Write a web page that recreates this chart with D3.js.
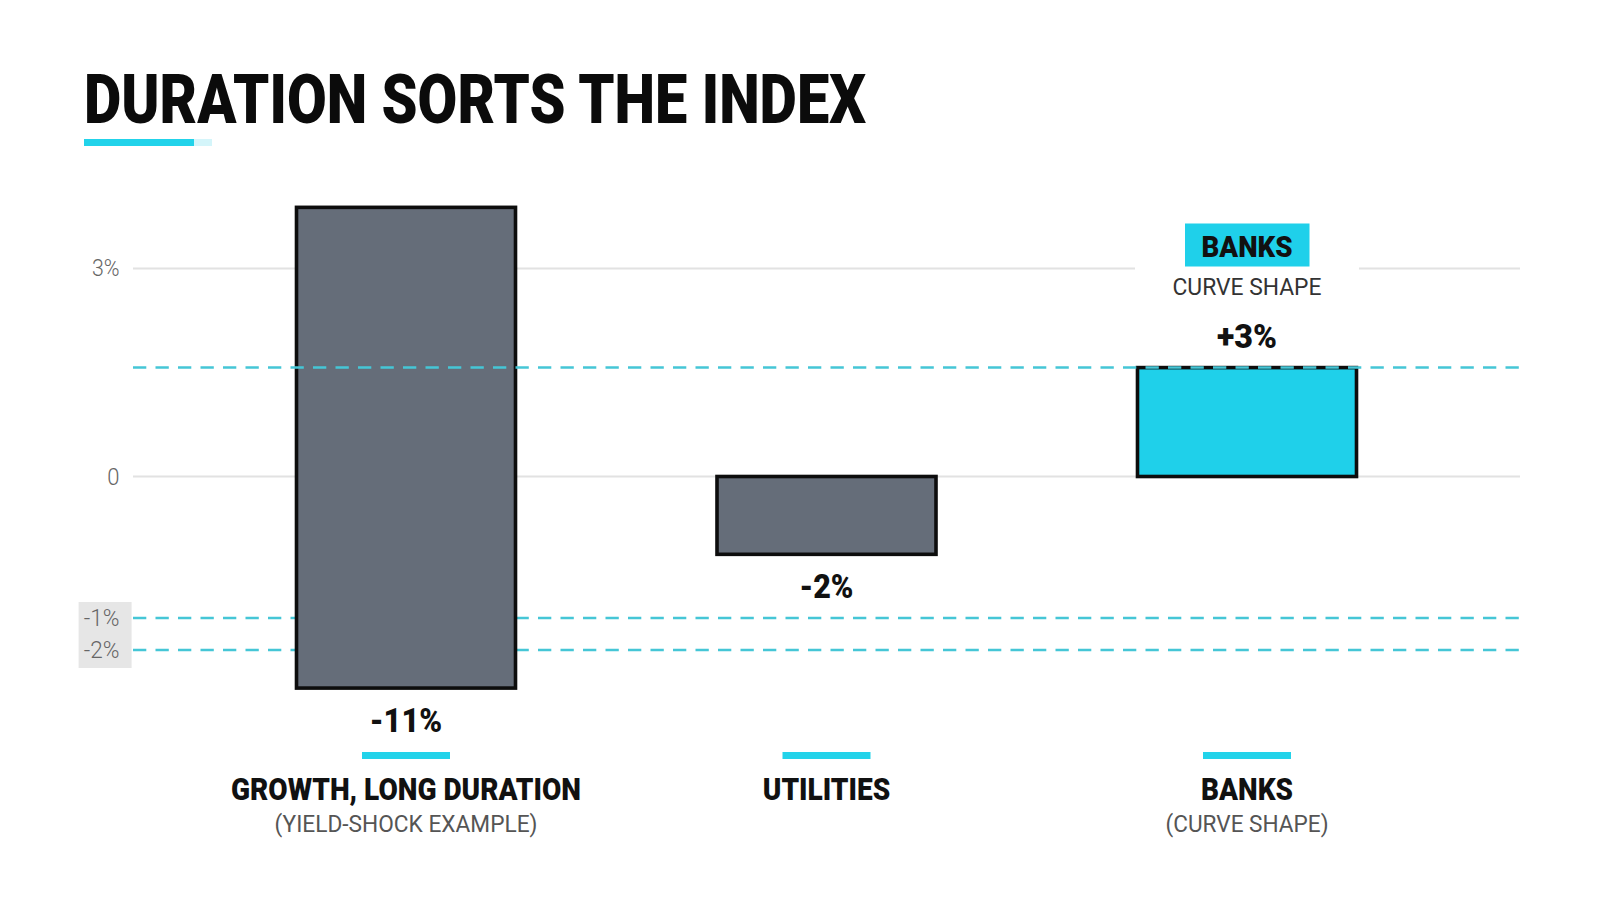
<!DOCTYPE html>
<html>
<head>
<meta charset="utf-8">
<script src="https://cdn.jsdelivr.net/npm/d3@7"></script>
<style>
  body { margin: 0; background: #fff; }
  svg text { font-family: Roboto, "Noto Sans", sans-serif; }
</style>
</head>
<body>
<div id="chart"></div>
<script>
// data
const categories = ["GROWTH, LONG DURATION", "UTILITIES", "BANKS"];
const subtitles = ["(YIELD-SHOCK EXAMPLE)", "", "(CURVE SHAPE)"];
const values = [-11, -2, 3];
// drawn extent of each bar, in axis units (the picture does not draw them to value)
const barTops = [3.88, 0, 1.57];
const barBottoms = [-3.19, -0.55, 0];
const tickValues = [3, 0, -1, -2];
const gridValues = [3, 0];
const refTop = [1.57];
const refLow = [-1, -2];

const width = 1600, height = 914;
const cyan = "#1fd0ea";
const dash = "#45c6d6";

const svg = d3.select("#chart").append("svg")
  .attr("width", width)
  .attr("height", height);

// axis is piecewise, the way the picture spaces it
const y = d3.scaleLinear()
  .domain([-2, -1, 0, 3])
  .range([650, 618, 476.5, 268.4]);

const x = d3.scalePoint()
  .domain(categories)
  .range([406, 1247]);

const barW = 219;
const fmtTick = v => v === 0 ? "0" : v + "%";
const fmtVal = v => (v > 0 ? "+" : "") + v + "%";

function fit(sel, w) {
  sel.attr("textLength", w).attr("lengthAdjust", "spacingAndGlyphs");
}

// title
svg.append("text")
  .attr("x", 84).attr("y", 123)
  .style("font-size", "69px").style("font-weight", 900)
  .attr("fill", "#0b0b0b")
  .text("DURATION SORTS THE INDEX")
  .call(fit, 782);
svg.append("rect").attr("x", 194).attr("y", 139).attr("width", 18).attr("height", 7).attr("fill", "#d4f5fa");
svg.append("rect").attr("x", 84).attr("y", 139).attr("width", 110).attr("height", 7).attr("fill", "#22d3ea");

// gridlines
svg.selectAll(".grid")
  .data(gridValues)
  .enter().append("line")
  .attr("x1", 133).attr("x2", 1520)
  .attr("y1", d => y(d)).attr("y2", d => y(d))
  .attr("stroke", "#e2e2e2")
  .attr("stroke-width", 2);

// tick labels
svg.append("rect").attr("x", 78.6).attr("y", 602).attr("width", 53).attr("height", 66).attr("fill", "#e6e6e6");
svg.selectAll(".tick")
  .data(tickValues)
  .enter().append("text")
  .attr("x", 119.5)
  .attr("y", d => y(d) + 8)
  .attr("text-anchor", "end")
  .style("font-size", "23px").style("font-weight", 300)
  .attr("fill", "#666")
  .text(fmtTick)
  .each(function (d) {
    d3.select(this).call(fit, d === 0 ? 12.2 : (d > 0 ? 27.6 : 35.7));
  });

// low reference lines sit under the bars
svg.selectAll(".refLow")
  .data(refLow)
  .enter().append("line")
  .attr("x1", 133).attr("x2", 1520)
  .attr("y1", d => y(d)).attr("y2", d => y(d))
  .attr("stroke", dash)
  .attr("stroke-width", 2.5)
  .attr("stroke-dasharray", "13.3 9.2");

// white patch behind the banks callout
svg.append("rect")
  .attr("x", x("BANKS") - 112).attr("y", 216)
  .attr("width", 224).attr("height", 92)
  .attr("fill", "#fff");

// bars
svg.selectAll(".bar")
  .data(categories)
  .enter().append("rect")
  .attr("x", d => x(d) - barW / 2)
  .attr("y", (d, i) => y(barTops[i]))
  .attr("width", barW)
  .attr("height", (d, i) => y(barBottoms[i]) - y(barTops[i]))
  .attr("fill", (d, i) => values[i] > 0 ? cyan : "#656d79")
  .attr("stroke", "#0d0d0d")
  .attr("stroke-width", 3.6);

// top reference line runs over the bars
svg.selectAll(".refTop")
  .data(refTop)
  .enter().append("line")
  .attr("x1", 133).attr("x2", 1520)
  .attr("y1", d => y(d)).attr("y2", d => y(d))
  .attr("stroke", dash)
  .attr("stroke-width", 2.5)
  .attr("stroke-dasharray", "13.3 9.2");

// value labels
svg.selectAll(".val")
  .data(categories)
  .enter().append("text")
  .attr("x", d => x(d))
  .attr("y", (d, i) => values[i] > 0 ? y(barTops[i]) - 19.4 : y(barBottoms[i]) + 44)
  .attr("text-anchor", "middle")
  .style("font-size", "34px").style("font-weight", 900)
  .attr("fill", "#111")
  .text((d, i) => fmtVal(values[i]))
  .each(function (d, i) {
    d3.select(this).call(fit, [72.5, 54, 60][i]);
  });

// banks callout
const bx = x("BANKS");
svg.append("rect")
  .attr("x", bx - 62).attr("y", 223.5)
  .attr("width", 124.5).attr("height", 43)
  .attr("fill", cyan);
svg.append("text")
  .attr("x", bx).attr("y", 257)
  .attr("text-anchor", "middle")
  .style("font-size", "29.6px").style("font-weight", 900)
  .attr("fill", "#111")
  .text("BANKS")
  .call(fit, 91);
svg.append("text")
  .attr("x", bx).attr("y", 295)
  .attr("text-anchor", "middle")
  .style("font-size", "24.5px")
  .attr("fill", "#333")
  .text("CURVE SHAPE")
  .call(fit, 149);

// category markers and labels
svg.selectAll(".mark")
  .data(categories)
  .enter().append("rect")
  .attr("x", d => x(d) - 44)
  .attr("y", 752)
  .attr("width", 88)
  .attr("height", 7)
  .attr("fill", "#22d3ea");

const catW = [350, 127.5, 92];
svg.selectAll(".cat")
  .data(categories)
  .enter().append("text")
  .attr("x", d => x(d))
  .attr("y", 800)
  .attr("text-anchor", "middle")
  .style("font-size", "31.6px").style("font-weight", 900)
  .attr("fill", "#111")
  .text(d => d)
  .each(function (d, i) {
    d3.select(this).call(fit, catW[i]);
  });

const subW = [263, 0, 163];
svg.selectAll(".sub")
  .data(categories.filter((d, i) => subtitles[i]))
  .enter().append("text")
  .attr("x", d => x(d))
  .attr("y", 831.6)
  .attr("text-anchor", "middle")
  .style("font-size", "24.5px")
  .attr("fill", "#555")
  .text(d => subtitles[categories.indexOf(d)])
  .each(function (d) {
    d3.select(this).call(fit, subW[categories.indexOf(d)]);
  });
</script>
</body>
</html>
